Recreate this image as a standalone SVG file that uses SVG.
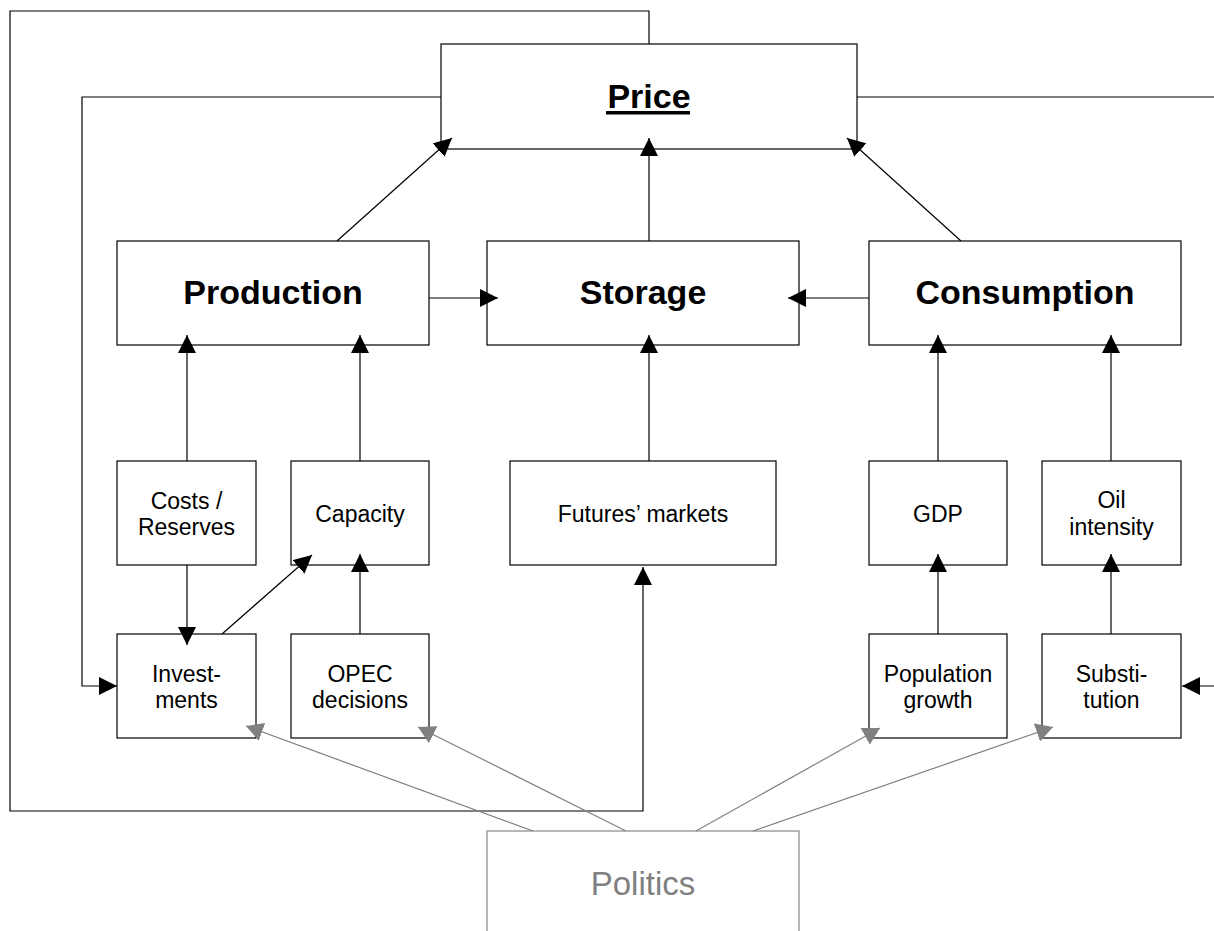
<svg xmlns="http://www.w3.org/2000/svg" width="1214" height="931" viewBox="0 0 1214 931">
<style>
.box{fill:#fff;stroke:#000;stroke-width:1.2}
.pbox{fill:#fff;stroke:#888;stroke-width:1.2}
.big{font-family:"Liberation Sans",Arial,sans-serif;font-size:34px;font-weight:bold;fill:#000;text-anchor:middle}
.sm{font-family:"Liberation Sans",Arial,sans-serif;font-size:23px;fill:#000;text-anchor:middle}
.pol{font-family:"Liberation Sans",Arial,sans-serif;font-size:33px;fill:#808080;text-anchor:middle}
.c{fill:none;stroke:#000;stroke-width:1.2}
.g{fill:none;stroke:#808080;stroke-width:1.2}
</style>
<defs>
<marker id="ab" markerUnits="userSpaceOnUse" markerWidth="19" markerHeight="18" refX="18" refY="9" orient="auto" viewBox="0 0 19 18">
<path d="M0,0 L18,9 L0,18 z" fill="#000"/>
</marker>
<marker id="ag" markerUnits="userSpaceOnUse" markerWidth="18" markerHeight="19" refX="17" refY="9.5" orient="auto" viewBox="0 0 18 19">
<path d="M0,0 L17,9.5 L0,19 z" fill="#808080"/>
</marker>
</defs>

<g id="price"><rect class="box" x="441" y="44" width="416" height="105"/>
<text class="big" x="649" y="108">Price</text>
<rect x="606" y="111" width="84" height="3.5" fill="#000"/></g>

<g id="production"><rect class="box" x="117" y="241" width="312" height="104"/>
<text class="big" x="273" y="304">Production</text></g>
<g id="storage"><rect class="box" x="487" y="241" width="312" height="104"/>
<text class="big" x="643" y="304">Storage</text></g>
<g id="consumption"><rect class="box" x="869" y="241" width="312" height="104"/>
<text class="big" x="1025" y="304">Consumption</text></g>

<g id="costs"><rect class="box" x="117" y="461" width="139" height="104"/>
<text class="sm" x="186.5" y="509">Costs /</text><text class="sm" x="186.5" y="535">Reserves</text></g>
<g id="capacity"><rect class="box" x="291" y="461" width="138" height="104"/>
<text class="sm" x="360" y="522">Capacity</text></g>
<g id="futures"><rect class="box" x="510" y="461" width="266" height="104"/>
<text class="sm" x="643" y="522">Futures’ markets</text></g>
<g id="gdp"><rect class="box" x="869" y="461" width="138" height="104"/>
<text class="sm" x="938" y="522">GDP</text></g>
<g id="oil"><rect class="box" x="1042" y="461" width="139" height="104"/>
<text class="sm" x="1111.5" y="508">Oil</text><text class="sm" x="1111.5" y="535">intensity</text></g>

<g id="investments"><rect class="box" x="117" y="634" width="139" height="104"/>
<text class="sm" x="186.5" y="682">Invest-</text><text class="sm" x="186.5" y="708">ments</text></g>
<g id="opec"><rect class="box" x="291" y="634" width="138" height="104"/>
<text class="sm" x="360" y="682">OPEC</text><text class="sm" x="360" y="708">decisions</text></g>
<g id="population"><rect class="box" x="869" y="634" width="138" height="104"/>
<text class="sm" x="938" y="682">Population</text><text class="sm" x="938" y="708">growth</text></g>
<g id="substitution"><rect class="box" x="1042" y="634" width="139" height="104"/>
<text class="sm" x="1111.5" y="682">Substi-</text><text class="sm" x="1111.5" y="708">tution</text></g>

<g id="politics"><rect class="pbox" x="487" y="831" width="312" height="110"/>
<text class="pol" x="643" y="895">Politics</text></g>

<g id="connectors">
<path class="c" d="M649,44 V11 H10 V811 H643 V567" marker-end="url(#ab)"/>
<path class="c" d="M441,97 H82 V686 H117" marker-end="url(#ab)"/>
<path class="c" d="M857,97 H1216 V686 H1182" marker-end="url(#ab)"/>
<line class="c" x1="337" y1="241" x2="452" y2="138" marker-end="url(#ab)"/>
<line class="c" x1="649" y1="241" x2="649" y2="138" marker-end="url(#ab)"/>
<line class="c" x1="961" y1="241" x2="847" y2="138" marker-end="url(#ab)"/>
<line class="c" x1="429" y1="298" x2="498" y2="298" marker-end="url(#ab)"/>
<line class="c" x1="869" y1="298" x2="788" y2="298" marker-end="url(#ab)"/>
<line class="c" x1="187" y1="461" x2="187" y2="335" marker-end="url(#ab)"/>
<line class="c" x1="360" y1="461" x2="360" y2="335" marker-end="url(#ab)"/>
<line class="c" x1="649" y1="461" x2="649" y2="335" marker-end="url(#ab)"/>
<line class="c" x1="938" y1="461" x2="938" y2="335" marker-end="url(#ab)"/>
<line class="c" x1="1111" y1="461" x2="1111" y2="335" marker-end="url(#ab)"/>
<line class="c" x1="187" y1="565" x2="187" y2="645" marker-end="url(#ab)"/>
<line class="c" x1="222" y1="634" x2="312" y2="555" marker-end="url(#ab)"/>
<line class="c" x1="360" y1="634" x2="360" y2="554" marker-end="url(#ab)"/>
<line class="c" x1="938" y1="634" x2="938" y2="554" marker-end="url(#ab)"/>
<line class="c" x1="1111" y1="634" x2="1111" y2="554" marker-end="url(#ab)"/>
<line class="g" x1="533" y1="831" x2="246" y2="726" marker-end="url(#ag)"/>
<line class="g" x1="626" y1="831" x2="418" y2="727" marker-end="url(#ag)"/>
<line class="g" x1="696" y1="831" x2="880" y2="728" marker-end="url(#ag)"/>
<line class="g" x1="753" y1="831" x2="1053" y2="727" marker-end="url(#ag)"/>
</g>
</svg>
